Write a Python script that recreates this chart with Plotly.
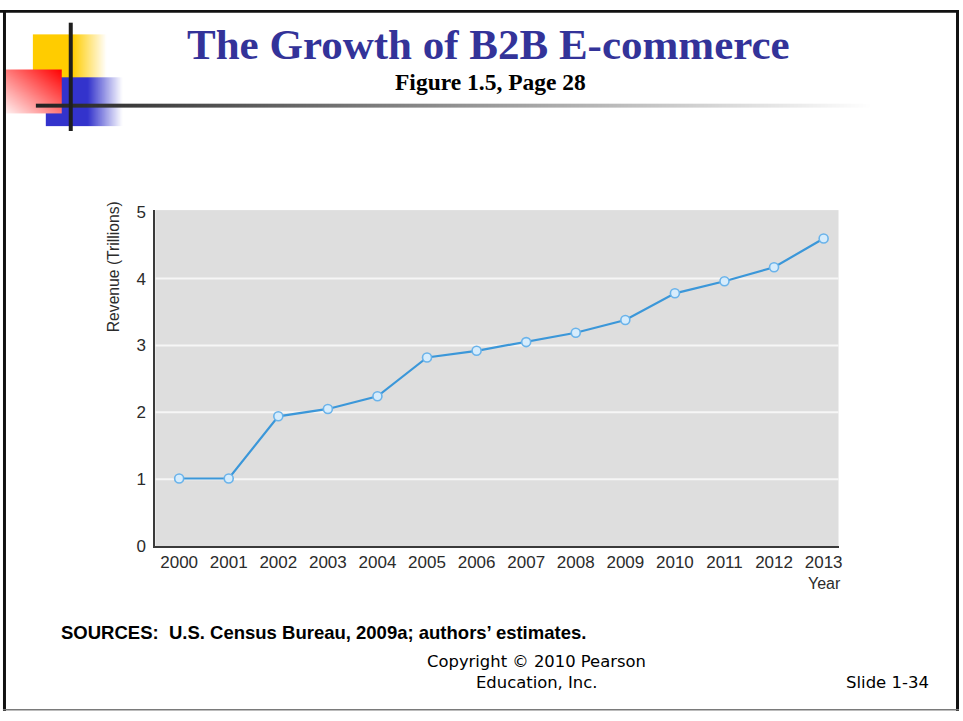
import base64
import struct
import zlib

import numpy as np
import plotly.graph_objects as go

# ---------------------------------------------------------------- data
years = [2000, 2001, 2002, 2003, 2004, 2005, 2006,
         2007, 2008, 2009, 2010, 2011, 2012, 2013]
revenue = [1.01, 1.01, 1.94, 2.05, 2.24, 2.82, 2.92,
           3.05, 3.19, 3.38, 3.78, 3.96, 4.17, 4.60]
y_tick_vals = [0, 1, 2, 3, 4, 5]
grid_vals = [1, 2, 3, 4]
x_tick_text = [str(y) for y in years]

W, H = 963, 721


def px_x(px):
    return px / W


def px_y(py):
    return 1 - py / H


# ---------------------------------------------------------------- slide logo (rendered to a small RGBA png)
def png_data_uri(rgba):
    h, w, _ = rgba.shape
    raw = b"".join(b"\x00" + rgba[r].tobytes() for r in range(h))

    def chunk(tag, data):
        body = tag + data
        return struct.pack(">I", len(data)) + body + struct.pack(">I", zlib.crc32(body) & 0xFFFFFFFF)

    png = (b"\x89PNG\r\n\x1a\n"
           + chunk(b"IHDR", struct.pack(">IIBBBBB", w, h, 8, 6, 0, 0, 0))
           + chunk(b"IDAT", zlib.compress(raw, 9))
           + chunk(b"IEND", b""))
    return "data:image/png;base64," + base64.b64encode(png).decode()


CW, CH = 880, 130
col = np.ones((CH, CW, 3)) * 255.0
alp = np.zeros((CH, CW))
XX, YY = np.meshgrid(np.arange(CW) + 0.5, np.arange(CH) + 0.5)


def composite(mask, rgb, a):
    """Paint rgb (HxWx3 or tuple) with alpha a over the canvas where mask is set."""
    global col, alp
    rgb = np.broadcast_to(np.asarray(rgb, dtype=float), (CH, CW, 3))
    a = np.where(mask, np.broadcast_to(a, (CH, CW)), 0.0)
    out_a = a + alp * (1 - a)
    safe = np.where(out_a > 0, out_a, 1)
    col = (rgb * a[..., None] + col * (alp * (1 - a))[..., None]) / safe[..., None]
    alp = out_a


def box(x0, x1, y0, y1):
    return (XX >= x0) & (XX < x1) & (YY >= y0) & (YY < y1)


# yellow square fading to the right
composite(box(33, 107, 28, 72), (255, 204, 0), np.clip((107 - XX) / (107 - 73), 0, 1))
# blue block fading to the right
composite(box(46, 123, 72, 122), (51, 51, 204), np.clip((123 - XX) / (123 - 88), 0, 1))
# red square with a diagonal white-to-red gradient
t = np.clip(0.5 * ((XX - 6) / 56 + (109 - YY) / 45), 0, 1)
red = np.stack([np.full_like(t, 255.0), 255 * (1 - t) * 0.94, 255 * (1 - t) * 0.94], axis=-1)
composite(box(6, 62, 64, 109), red, 1.0)
# horizontal rule fading from dark to white
g = 34 + (255 - 34) * np.clip((XX - 36) / (875 - 36), 0, 1)
composite(box(36, 875, 99, 103), np.stack([g, g, g], axis=-1), 1.0)
# vertical rule
composite(box(69, 73, 16, 127), (30, 30, 30), 1.0)

logo = np.dstack([col, alp[..., None] * 255]).round().clip(0, 255).astype(np.uint8)
logo_uri = png_data_uri(logo)

# ---------------------------------------------------------------- chart
fig = go.Figure()
fig.add_trace(go.Scatter(
    x=years, y=revenue, mode="lines+markers",
    line=dict(color="#3b97d9", width=2.2),
    marker=dict(size=9, color="#d6ecfc", line=dict(color="#6ab3ea", width=1.6)),
    hoverinfo="x+y",
))

axis_font = dict(family="Liberation Sans, Arial, sans-serif", size=17, color="#2b2b2b")

shapes = []
for v in grid_vals:
    shapes.append(dict(type="line", xref="x domain", x0=0, x1=1, yref="y", y0=v, y1=v,
                       line=dict(color="#f6f6f6", width=2), layer="below"))

# slide border
border = "#111111"
shapes += [
    dict(type="rect", xref="paper", yref="paper", x0=px_x(0), x1=px_x(W), y0=px_y(3), y1=px_y(6),
         fillcolor=border, line=dict(width=0)),
    dict(type="rect", xref="paper", yref="paper", x0=px_x(3), x1=px_x(6), y0=px_y(3), y1=px_y(H),
         fillcolor=border, line=dict(width=0)),
    dict(type="rect", xref="paper", yref="paper", x0=px_x(960), x1=px_x(963), y0=px_y(3), y1=px_y(H),
         fillcolor=border, line=dict(width=0)),
    dict(type="rect", xref="paper", yref="paper", x0=px_x(3), x1=px_x(963), y0=px_y(719), y1=px_y(720.5),
         fillcolor="#7a7a7a", line=dict(width=0)),
]

annotations = [
    dict(text="The Growth of B2B E-commerce", x=px_x(491), y=px_y(38),
         font=dict(family="Liberation Serif, Times New Roman, serif", size=43, color="#333399", weight="bold")),
    dict(text="Figure 1.5, Page 28", x=px_x(492.5), y=px_y(77),
         font=dict(family="Liberation Serif, Times New Roman, serif", size=23.5, color="#000000", weight="bold")),
    dict(text="Revenue (Trillions)", x=px_x(114), y=px_y(266), textangle=-90,
         font=dict(family="Liberation Sans, Arial, sans-serif", size=15.7, color="#2b2b2b")),
    dict(text="Year", x=px_x(847), y=px_y(590), xanchor="right",
         font=dict(family="Liberation Sans, Arial, sans-serif", size=16, color="#2b2b2b")),
    dict(text="SOURCES:  U.S. Census Bureau, 2009a; authors\u2019 estimates.", x=px_x(59), y=px_y(641),
         xanchor="left",
         font=dict(family="Liberation Sans, Arial, sans-serif", size=18.5, color="#000000", weight="bold")),
    dict(text="Copyright \u00a9 2010 Pearson", x=px_x(539), y=px_y(670),
         font=dict(family="DejaVu Sans, sans-serif", size=16.4, color="#000000")),
    dict(text="Education, Inc.", x=px_x(539), y=px_y(692),
         font=dict(family="DejaVu Sans, sans-serif", size=16.4, color="#000000")),
    dict(text="Slide 1-34", x=px_x(935), y=px_y(692), xanchor="right",
         font=dict(family="DejaVu Sans, sans-serif", size=16.5, color="#000000")),
]
for a in annotations:
    a.update(xref="paper", yref="paper", showarrow=False)
    a.setdefault("xanchor", "center")
    a.setdefault("yanchor", "middle")

fig.update_layout(
    width=W, height=H,
    margin=dict(l=0, r=0, t=0, b=0),
    paper_bgcolor="white",
    plot_bgcolor="#dedede",
    showlegend=False,
    xaxis=dict(
        domain=[px_x(156), px_x(842)], range=[1999.52, 2013.3],
        tickmode="array", tickvals=years, ticktext=x_tick_text,
        showgrid=False, zeroline=False, showline=True, linecolor="#3a3a3a", linewidth=2,
        ticks="", tickfont=axis_font, ticklabelstandoff=0,
    ),
    yaxis=dict(
        domain=[px_y(552), px_y(208)], range=[0, 5.025],
        tickmode="array", tickvals=y_tick_vals,
        showgrid=False, zeroline=False, showline=True, linecolor="#3a3a3a", linewidth=2,
        ticks="", tickfont=axis_font, ticklabelstandoff=4,
    ),
    shapes=shapes,
    annotations=annotations,
    images=[dict(source=logo_uri, xref="paper", yref="paper", x=0, y=1,
                 sizex=CW / W, sizey=CH / H, xanchor="left", yanchor="top",
                 sizing="stretch", layer="above")],
)

fig.write_html("out.html")
